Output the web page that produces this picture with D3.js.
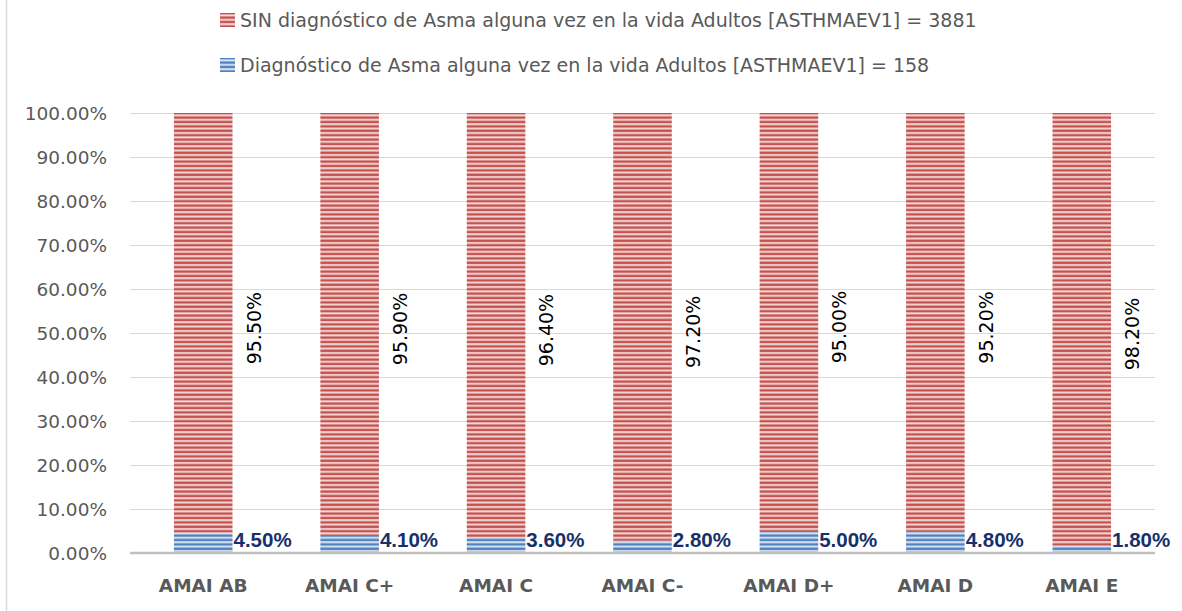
<!DOCTYPE html>
<html>
<head>
    <meta charset="utf-8">
    <title>Asma por nivel AMAI</title>
    <script type="text/javascript" src="https://cdn.jsdelivr.net/npm/d3@7"></script>
</head>
<body>
</body>
</html>

<style>

body {
    margin: 0;
    background: #fff;
}

svg text {
    font-family: "DejaVu Sans", sans-serif;
}

.axis path {
    display: none;
}

.axis line {
    stroke: #d9d9d9;
    shape-rendering: crispEdges;
}

</style>

<script>

var categories = ["AMAI AB", "AMAI C+", "AMAI C", "AMAI C-", "AMAI D+", "AMAI D", "AMAI E"];
var conAsma = [4.5, 4.1, 3.6, 2.8, 5.0, 4.8, 1.8];      // Diagnóstico de Asma
var sinAsma = [95.5, 95.9, 96.4, 97.2, 95.0, 95.2, 98.2]; // SIN diagnóstico
var yTicks = [0, 10, 20, 30, 40, 50, 60, 70, 80, 90, 100];
var legendLabels = [
    "SIN diagnóstico de Asma alguna vez en la vida Adultos [ASTHMAEV1] = 3881",
    "Diagnóstico de Asma alguna vez en la vida Adultos [ASTHMAEV1] = 158"
];

var W = 1182, H = 611;
var margin = {top: 113, right: 27, bottom: 58, left: 130}
  , width = W - margin.left - margin.right
  , height = H - margin.top - margin.bottom;

var svg = d3.select("body").append("svg")
    .attr("width", W)
    .attr("height", H);

// striped fills
var defs = svg.append("defs");
function stripes(id, dark, light) {
    var p = defs.append("pattern")
        .attr("id", id)
        .attr("patternUnits", "userSpaceOnUse")
        .attr("x", 0).attr("y", margin.top)
        .attr("width", 8).attr("height", 4.4);
    p.append("rect").attr("width", 8).attr("height", 4.4).attr("fill", light);
    p.append("rect").attr("y", 0.4).attr("width", 8).attr("height", 2.4).attr("fill", dark);
}
stripes("redStripes", "#c4524f", "#f3d8d7");
stripes("blueStripes", "#5082c0", "#d8e4f2");

// outer border on the left
svg.append("line")
    .attr("x1", 6.5).attr("x2", 6.5)
    .attr("y1", 0).attr("y2", H)
    .attr("stroke", "#d9d9d9")
    .attr("stroke-width", 1.5);

var g = svg.append("g")
    .attr("transform", "translate(" + margin.left + "," + margin.top + ")");

var xScale = d3.scaleBand()
    .domain(categories)
    .range([0, width])
    .paddingInner(0.6)
    .paddingOuter(0.3);

var yScale = d3.scaleLinear()
    .domain([0, 100])
    .range([height, 0]);

// gridlines
g.append("g")
    .attr("class", "axis")
    .call(d3.axisLeft(yScale).tickValues(yTicks).tickSize(-width).tickFormat(""));

// y labels
g.selectAll(".ylab")
    .data(yTicks)
  .enter().append("text")
    .attr("class", "ylab")
    .attr("x", -23)
    .attr("y", function(d) { return yScale(d) + 6.7; })
    .attr("text-anchor", "end")
    .attr("fill", "#595959")
    .style("font-size", "18.5px")
    .text(function(d) { return d.toFixed(2) + "%"; });

var rows = categories.map(function(c, i) {
    return {cat: c, con: conAsma[i], sin: sinAsma[i]};
});

// blue bottom segment
g.selectAll(".bar-con")
    .data(rows)
  .enter().append("rect")
    .attr("class", "bar-con")
    .attr("x", function(d) { return xScale(d.cat); })
    .attr("width", xScale.bandwidth())
    .attr("y", function(d) { return yScale(d.con); })
    .attr("height", function(d) { return height - yScale(d.con); })
    .attr("fill", "url(#blueStripes)");

// red top segment
g.selectAll(".bar-sin")
    .data(rows)
  .enter().append("rect")
    .attr("class", "bar-sin")
    .attr("x", function(d) { return xScale(d.cat); })
    .attr("width", xScale.bandwidth())
    .attr("y", function(d) { return yScale(d.con + d.sin); })
    .attr("height", function(d) { return yScale(d.con) - yScale(d.con + d.sin); })
    .attr("fill", "url(#redStripes)");

// baseline
g.append("line")
    .attr("x1", 0).attr("x2", width)
    .attr("y1", yScale(0)).attr("y2", yScale(0))
    .attr("stroke", "#bfbfbf")
    .attr("stroke-width", 2.5);

// x labels
g.selectAll(".xlab")
    .data(categories)
  .enter().append("text")
    .attr("class", "xlab")
    .attr("x", function(d) { return xScale(d) + xScale.bandwidth() / 2; })
    .attr("y", height + 39)
    .attr("text-anchor", "middle")
    .attr("fill", "#595959")
    .style("font-size", "18.5px")
    .style("font-weight", "bold")
    .text(function(d) { return d; });

// value labels, blue
g.selectAll(".lab-con")
    .data(rows)
  .enter().append("text")
    .attr("class", "lab-con")
    .attr("x", function(d) { return xScale(d.cat) + xScale.bandwidth() + 1; })
    .attr("y", height - 6.5)
    .attr("fill", "#17306b")
    .style("font-family", "'Liberation Sans', sans-serif")
    .style("font-size", "20.5px")
    .style("font-weight", "bold")
    .text(function(d) { return d.con.toFixed(2) + "%"; });

// value labels, red (rotated)
g.selectAll(".lab-sin")
    .data(rows)
  .enter().append("text")
    .attr("class", "lab-sin")
    .attr("transform", function(d) {
        var x = xScale(d.cat) + xScale.bandwidth() + 28;
        var y = yScale(d.con + d.sin / 2) + 5;
        return "translate(" + x + "," + y + ") rotate(-90)";
    })
    .attr("text-anchor", "middle")
    .attr("fill", "#000")
    .style("font-size", "19px")
    .text(function(d) { return d.sin.toFixed(2) + "%"; });

// legend
var legend = svg.selectAll(".legend")
    .data(legendLabels)
  .enter().append("g")
    .attr("class", "legend")
    .attr("transform", function(d, i) { return "translate(220," + (13 + i * 45) + ")"; });

legend.append("rect")
    .attr("width", 15)
    .attr("height", 14)
    .attr("fill", function(d, i) { return i == 0 ? "url(#redStripes)" : "url(#blueStripes)"; });

legend.append("text")
    .attr("x", 20)
    .attr("y", 14)
    .attr("fill", "#595959")
    .style("font-size", "19px")
    .text(function(d) { return d; });

</script>
